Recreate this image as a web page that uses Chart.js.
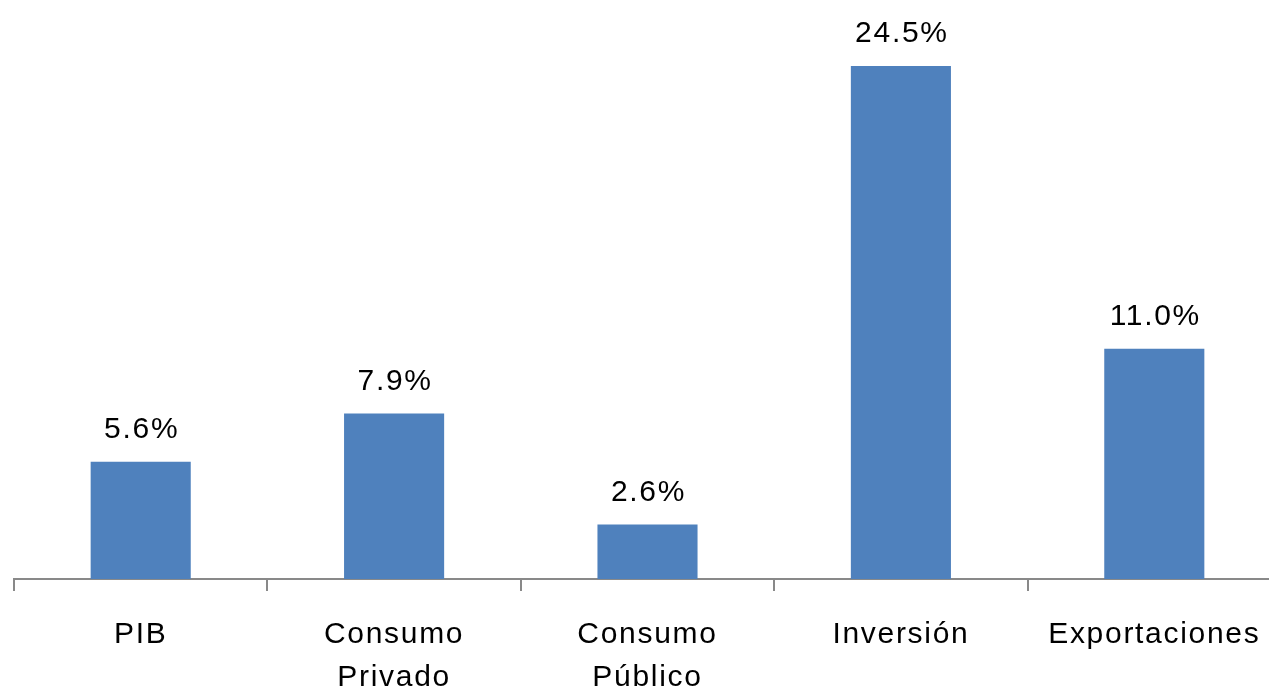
<!DOCTYPE html>
<html>
<head>
<meta charset="utf-8">
<script src="https://cdn.jsdelivr.net/npm/chart.js@4.4.1/dist/chart.umd.min.js"></script>
<style>
  html, body { margin: 0; padding: 0; background: #fff; overflow: hidden; }
  #wrap { position: relative; width: 1285px; height: 691px; }
</style>
</head>
<body>
<div id="wrap"><canvas id="barChart"></canvas></div>
<script>
// Categories and growth values (%)
const categories = ["PIB", ["Consumo", "Privado"], ["Consumo", "Público"], "Inversión", "Exportaciones"];
const growth = [5.6, 7.9, 2.6, 24.5, 11.0];

const barColor = "#4F81BD";
const axisColor = "#898989";
const fontFamily = "'Liberation Sans', Arial, sans-serif";

// Wider letter spacing, like the original
const spacing = {
  id: "spacing",
  beforeDraw(chart) {
    chart.ctx.letterSpacing = "1.7px";
  }
};

// Draw value labels above each bar
const valueLabels = {
  id: "valueLabels",
  afterDatasetsDraw(chart) {
    const ctx = chart.ctx;
    const meta = chart.getDatasetMeta(0);
    ctx.save();
    ctx.font = "30px " + fontFamily;
    ctx.fillStyle = "#000";
    ctx.textAlign = "center";
    ctx.textBaseline = "alphabetic";
    meta.data.forEach((bar, i) => {
      ctx.fillText(growth[i].toFixed(1) + "%", bar.x + 1, bar.y - 24);
    });
    ctx.restore();
  }
};

new Chart(document.getElementById("barChart").getContext("2d"), {
  type: "bar",
  data: {
    labels: categories,
    datasets: [{
      data: growth,
      backgroundColor: barColor,
      barPercentage: 0.395,
      categoryPercentage: 1
    }]
  },
  options: {
    responsive: true,
    maintainAspectRatio: false,
    animation: false,
    layout: { padding: { left: 14, right: 4, top: 0, bottom: 0 } },
    plugins: {
      legend: { display: false },
      tooltip: { enabled: false }
    },
    scales: {
      y: { display: false, min: 0, max: 27.65 },
      x: {
        afterFit: s => { s.height = 112; },
        border: { display: true, color: axisColor, width: 2 },
        grid: {
          offset: true,
          drawOnChartArea: false,
          drawTicks: true,
          tickLength: 12,
          color: axisColor,
          lineWidth: 2
        },
        ticks: {
          color: "#000",
          padding: 22,
          maxRotation: 0,
          autoSkip: false,
          font: { family: fontFamily, size: 30, lineHeight: 1.43 }
        }
      }
    }
  },
  plugins: [spacing, valueLabels]
});
</script>
</body>
</html>
